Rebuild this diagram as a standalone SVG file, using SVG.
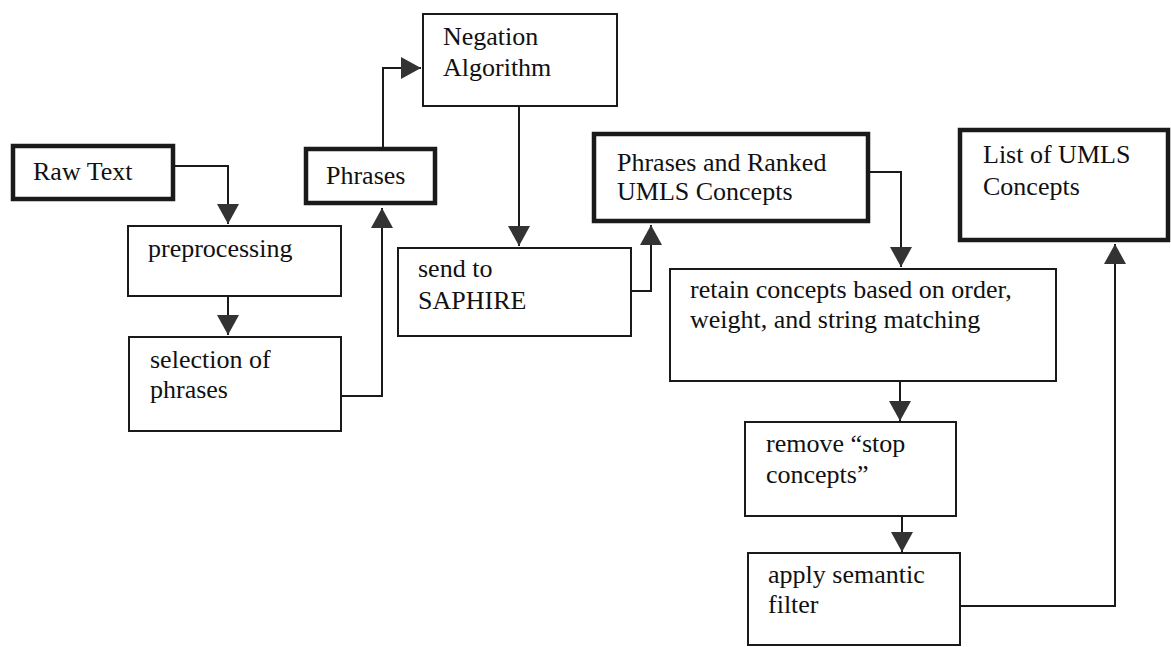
<svg xmlns="http://www.w3.org/2000/svg" width="1171" height="647" viewBox="0 0 1171 647">
<style>
.thick{fill:#fff;stroke:#1a1a1a;stroke-width:4.5}
.thin{fill:#fff;stroke:#1a1a1a;stroke-width:2}
.t{font-family:"Liberation Serif","Times New Roman",serif;font-size:26px;fill:#111}
.c{fill:none;stroke:#1a1a1a;stroke-width:2}
</style>
<defs>
<marker id="ah" viewBox="0 0 20 22" refX="20" refY="11" markerWidth="20" markerHeight="22" markerUnits="userSpaceOnUse" orient="auto">
<path d="M0,0 L20,11 L0,22 z" fill="#333"/>
</marker>
</defs>
<rect width="1171" height="647" fill="#fff"/>
<g id="connectors">
<path class="c" d="M175,166 H228 V224" marker-end="url(#ah)"/>
<path class="c" d="M228,297 V335" marker-end="url(#ah)"/>
<path class="c" d="M342,396 H382 V208" marker-end="url(#ah)"/>
<path class="c" d="M383,147 V68 H421" marker-end="url(#ah)"/>
<path class="c" d="M519,107 V246" marker-end="url(#ah)"/>
<path class="c" d="M632,291 H651 V225" marker-end="url(#ah)"/>
<path class="c" d="M870,172 H901 V267" marker-end="url(#ah)"/>
<path class="c" d="M900,382 V421" marker-end="url(#ah)"/>
<path class="c" d="M902,517 V552" marker-end="url(#ah)"/>
<path class="c" d="M961,606 H1115 V244" marker-end="url(#ah)"/>
</g>
<g id="raw-text"><rect class="thick" x="13" y="146" width="160" height="53"/><text class="t" x="33" y="180">Raw Text</text></g>
<g id="preprocessing"><rect class="thin" x="128" y="226" width="213" height="70"/><text class="t" x="148" y="257">preprocessing</text></g>
<g id="selection"><rect class="thin" x="129" y="337" width="212" height="94"/><text class="t" x="150" y="368">selection of</text><text class="t" x="150" y="398">phrases</text></g>
<g id="phrases"><rect class="thick" x="306" y="149" width="129" height="54"/><text class="t" x="326" y="184">Phrases</text></g>
<g id="negation"><rect class="thin" x="423" y="14" width="194" height="92"/><text class="t" x="443" y="45">Negation</text><text class="t" x="443" y="76">Algorithm</text></g>
<g id="send"><rect class="thin" x="398" y="248" width="233" height="88"/><text class="t" x="418" y="277">send to</text><text class="t" x="418" y="309">SAPHIRE</text></g>
<g id="ranked"><rect class="thick" x="594" y="134" width="274" height="87"/><text class="t" x="617" y="171">Phrases and Ranked</text><text class="t" x="617" y="200">UMLS Concepts</text></g>
<g id="list"><rect class="thick" x="960" y="130" width="208" height="110"/><text class="t" x="983" y="163">List of UMLS</text><text class="t" x="983" y="195">Concepts</text></g>
<g id="retain"><rect class="thin" x="670" y="269" width="386" height="112"/><text class="t" x="690" y="298">retain concepts based on order,</text><text class="t" x="690" y="328">weight, and string matching</text></g>
<g id="remove"><rect class="thin" x="745" y="422" width="211" height="94"/><text class="t" x="766" y="452">remove “stop</text><text class="t" x="766" y="483">concepts”</text></g>
<g id="apply"><rect class="thin" x="748" y="553" width="212" height="92"/><text class="t" x="768" y="583">apply semantic</text><text class="t" x="768" y="613">filter</text></g>
</svg>
